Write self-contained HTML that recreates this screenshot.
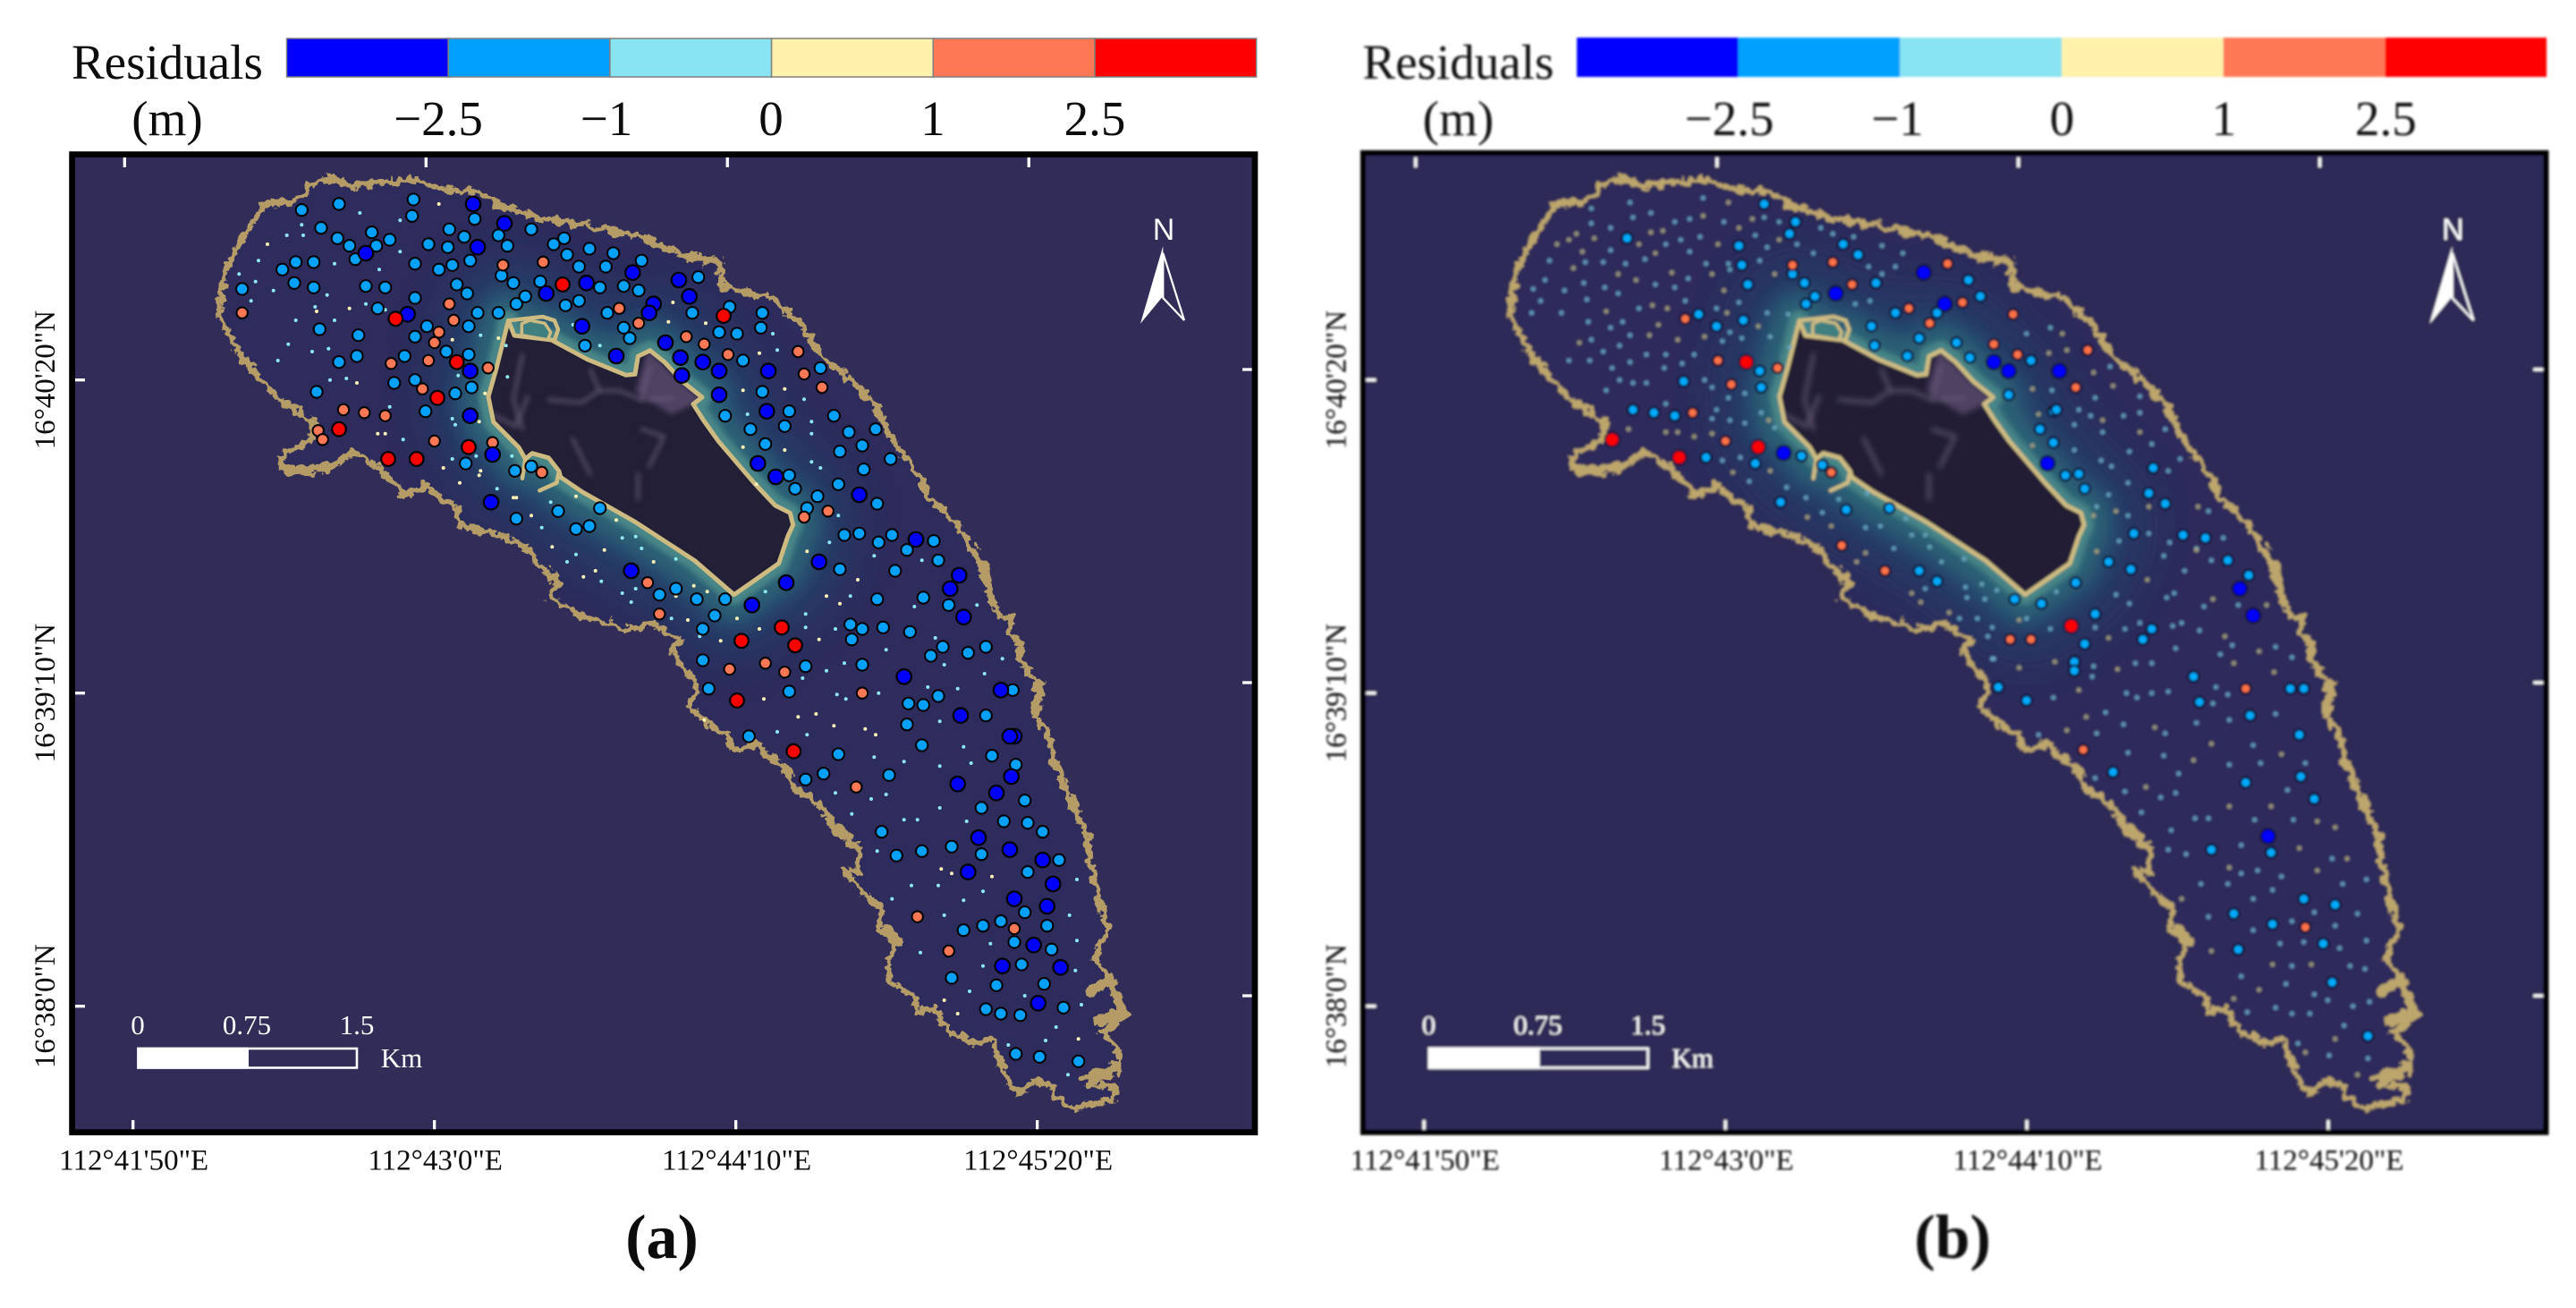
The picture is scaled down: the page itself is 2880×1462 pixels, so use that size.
<!DOCTYPE html>
<html lang="en">
<head>
<meta charset="utf-8">
<title>Residuals maps (a) and (b)</title>
<style>
html,body{margin:0;padding:0;background:#fff;}
svg{display:block;}
text{font-family:"Liberation Serif",serif;fill:#0c0c0c;}
</style>
</head>
<body>
<svg xmlns="http://www.w3.org/2000/svg" width="2880" height="1462" viewBox="0 0 2880 1462">
  <defs>
    <filter id="rough" filterUnits="userSpaceOnUse" x="-100" y="0" width="1700" height="1462">
      <feTurbulence type="fractalNoise" baseFrequency="0.1" numOctaves="3" seed="7"/>
      <feDisplacementMap in="SourceGraphic" scale="15" xChannelSelector="R" yChannelSelector="G"/>
    </filter>
    <filter id="blurWide" filterUnits="userSpaceOnUse" x="-100" y="0" width="1700" height="1462"><feGaussianBlur stdDeviation="28"/></filter>
    <filter id="blurMid" filterUnits="userSpaceOnUse" x="-100" y="0" width="1700" height="1462"><feGaussianBlur stdDeviation="12"/></filter>
    <filter id="blurNear" filterUnits="userSpaceOnUse" x="-100" y="0" width="1700" height="1462"><feGaussianBlur stdDeviation="3"/></filter>
    <filter id="soften" filterUnits="userSpaceOnUse" x="1400" y="0" width="1480" height="1462"><feGaussianBlur stdDeviation="1.2"/></filter>
    <clipPath id="mapClip"><rect x="80" y="173" width="1323" height="1092"/></clipPath>
    <clipPath id="reefClip"><path id="reefClipPath" d=""/></clipPath>
    <clipPath id="islandClip"><path id="islandClipPath" d=""/></clipPath>
  </defs>
  <rect x="0" y="0" width="2880" height="1462" fill="#ffffff"/>

  <g id="panel-a">
    <text x="80" y="88" font-size="55">Residuals</text>
    <text x="187" y="151" font-size="55" text-anchor="middle">(m)</text>
    <g stroke="#808080" stroke-width="1.5">
      <rect x="320.5" y="43" width="180.7" height="43" fill="#0000ff"/>
      <rect x="501.2" y="43" width="180.7" height="43" fill="#00a0ff"/>
      <rect x="681.9" y="43" width="180.7" height="43" fill="#88e4f0"/>
      <rect x="862.6" y="43" width="180.7" height="43" fill="#fef2ac"/>
      <rect x="1043.3" y="43" width="180.7" height="43" fill="#ff7855"/>
      <rect x="1224" y="43" width="180.7" height="43" fill="#ff0000"/>
    </g>
    <g font-size="55" text-anchor="middle">
      <text x="490" y="151">−2.5</text>
      <text x="678" y="151">−1</text>
      <text x="862" y="151">0</text>
      <text x="1043" y="151">1</text>
      <text x="1224" y="151">2.5</text>
    </g>
    <rect x="80" y="173" width="1323" height="1092" fill="#312c58"/>
    <g class="map" clip-path="url(#mapClip)"></g>
    <g class="axes"></g>
    <rect x="80.6" y="172.6" width="1322.4" height="1093" fill="none" stroke="#000" stroke-width="6.7"/>
    <g>
      <text x="1301" y="268" font-size="34" text-anchor="middle" style="font-family:'Liberation Sans',sans-serif;fill:#fff">N</text>
      <polygon points="1300.3,275 1275,361.7 1300.3,331" fill="#fff"/>
      <polygon points="1300.3,283 1324,358 1300.3,333" fill="none" stroke="#fff" stroke-width="2.2"/>
    </g>
    <g>
      <text x="154" y="1156" font-size="31" text-anchor="middle" style="fill:#fff">0</text>
      <text x="276" y="1156" font-size="31" text-anchor="middle" style="fill:#fff">0.75</text>
      <text x="399" y="1156" font-size="31" text-anchor="middle" style="fill:#fff">1.5</text>
      <text x="425.7" y="1193" font-size="31" style="fill:#fff">Km</text>
      <rect x="154.5" y="1172" width="244.5" height="21.5" fill="none" stroke="#fff" stroke-width="2.6"/>
      <rect x="153.3" y="1170.7" width="124.7" height="24" fill="#fff"/>
    </g>
    <text x="740" y="1406" font-size="70" font-weight="bold" text-anchor="middle">(a)</text>
  </g>

  <g filter="url(#soften)">
  <g id="panel-b" transform="translate(1443.4,0)">
    <text x="80" y="88" font-size="55">Residuals</text>
    <text x="187" y="151" font-size="55" text-anchor="middle">(m)</text>
    <g>
      <rect x="319.5" y="42" width="180.7" height="44" fill="#0000ff"/>
      <rect x="500.2" y="42" width="180.7" height="44" fill="#00a0ff"/>
      <rect x="680.9" y="42" width="180.7" height="44" fill="#88e4f0"/>
      <rect x="861.6" y="42" width="180.7" height="44" fill="#fef2ac"/>
      <rect x="1042.3" y="42" width="180.7" height="44" fill="#ff7855"/>
      <rect x="1223" y="42" width="180.7" height="44" fill="#ff0000"/>
    </g>
    <g font-size="55" text-anchor="middle">
      <text x="490" y="151">−2.5</text>
      <text x="678" y="151">−1</text>
      <text x="862" y="151">0</text>
      <text x="1043" y="151">1</text>
      <text x="1224" y="151">2.5</text>
    </g>
    <rect x="80" y="171" width="1323" height="1094" fill="#2f2b58"/>
    <g class="map" clip-path="url(#mapClip)"></g>
    <g class="axes"></g>
    <rect x="80.6" y="171" width="1322.4" height="1094.6" fill="none" stroke="#000" stroke-width="6.2"/>
    <g transform="translate(-2,0)">
      <text x="1301" y="268" font-size="34" text-anchor="middle" style="font-family:'Liberation Sans',sans-serif;fill:#fff">N</text>
      <polygon points="1300.3,275 1275,361.7 1300.3,331" fill="#fff"/>
      <polygon points="1300.3,283 1324,358 1300.3,333" fill="none" stroke="#fff" stroke-width="2.2"/>
    </g>
    <g>
      <text x="154" y="1156" font-size="31" text-anchor="middle" style="fill:#fff">0</text>
      <text x="276" y="1156" font-size="31" text-anchor="middle" style="fill:#fff">0.75</text>
      <text x="399" y="1156" font-size="31" text-anchor="middle" style="fill:#fff">1.5</text>
      <text x="425.7" y="1193" font-size="31" style="fill:#fff">Km</text>
      <rect x="154.5" y="1172" width="244.5" height="21.5" fill="none" stroke="#fff" stroke-width="2.6"/>
      <rect x="153.3" y="1170.7" width="124.7" height="24" fill="#fff"/>
    </g>
    <text x="739.6" y="1406" font-size="70" font-weight="bold" text-anchor="middle">(b)</text>
  </g>
  </g>
</svg>
<script>
// Map coordinates are decametres east / north of the map's south-west corner.
const coastOutline=[[98,562],[101,576],[112,599],[126,620],[151,624],[159,635],[173,638],[186,633],[203,635],[225,637],[247,631],[269,629],[286,620],[313,611],[335,608],[346,606],[379,599],[412,585],[432,582],[434,565],[467,558],[484,544],[492,532],[501,518],[517,506],[534,490],[547,465],[564,442],[572,425],[594,403],[608,381],[613,362],[620,343],[629,345],[626,332],[634,329],[633,315],[647,299],[644,276],[653,266],[658,243],[668,223],[673,210],[679,197],[682,173],[689,147],[692,134],[684,114],[694,101],[705,78],[689,65],[699,55],[700,40],[679,32],[699,27],[697,20],[670,15],[657,22],[654,30],[644,33],[633,25],[626,32],[618,53],[615,61],[604,58],[586,66],[576,81],[565,79],[564,89],[546,99],[546,114],[552,129],[539,134],[541,147],[528,160],[515,175],[525,173],[525,190],[509,203],[502,216],[480,231],[478,243],[467,249],[457,260],[443,254],[437,266],[422,274],[412,284],[417,299],[408,310],[400,322],[406,327],[387,340],[371,335],[358,340],[342,343],[329,352],[318,357],[324,368],[310,380],[302,392],[286,398],[258,406],[255,417],[236,431],[220,427],[206,442],[187,455],[170,444],[142,442],[137,451],[159,462],[159,476],[137,490],[123,505],[112,518],[104,532],[97,546]];
const coastThickSegments=[[[682,94],[695,101],[702,79],[686,73]],[[679,35],[700,43]],[[544,134],[552,127]],[[509,203],[522,192]],[[412,585],[432,582]],[[608,381],[613,362]],[[647,299],[644,280]],[[142,442],[170,444]],[[236,431],[220,427]]];
const islandOutline=[[290.6,542.8],[294.6,532.8],[319.6,529.8],[343.6,516.8],[369.6,506.2],[375.6,506.8],[377.6,518.8],[385.6,522.8],[395.6,514.8],[407.6,501.8],[420.6,491.4],[414.6,486.8],[421.6,475.8],[431.6,461.8],[455.6,433.8],[469.6,418.8],[479.6,413.8],[481.6,405.8],[478,398],[472,380],[455,368],[442,359],[415.6,381.8],[375.6,407.8],[340,428],[325.6,437.8],[324.6,441.8],[317.6,450.8],[306.6,453.8],[302,450],[297.6,457.8],[280.6,474.8],[277.2,491.8],[282.6,510.8]];
const harbourLoop=[[290.6,542.8],[313.6,545.4],[321.6,542.8],[324,536.8],[321.6,529.8]];
const harbourInner=[[299.6,540.8],[299.6,533],[317,530],[319,535],[315,541],[305,543]];
const southJetty=[[311.6,428.8],[323,434],[324.6,441.8]];
const westJetty=[[302,450],[300,437]];
const islandPatch=[[385,520],[405,500],[418,490],[400,482],[378,496]];
const islandTracks=[[[317.6,489.8],[339.6,487.8],[351.6,495.8],[365.6,495.8],[379.6,489.8],[401.6,490.8]],[[345.6,509.8],[351.6,495.8]],[[385.6,511.8],[379.6,489.8]],[[279.6,480],[295.6,471.8],[303.6,491.8]],[[333.6,463.8],[345.6,439.8]],[[377.6,439.8],[377.6,423]],[[300,520],[294,490],[300,470]],[[380,470],[395,465],[385,445]]];

const aDeep=[[267,621],[288,608],[270,592],[195,588],[374,575],[405,570],[343,568],[316,561],[412,559],[388,554],[385,548],[223,547],[340,539],[396,528],[406,518],[363,519],[421,515],[432,509],[265,509],[407,506],[465,509],[432,493],[464,482],[265,479],[280,453],[458,447],[470,438],[526,426],[279,421],[564,396],[593,372],[587,363],[596,344],[499,381],[477,367],[373,375],[454,352],[556,304],[621,295],[594,278],[630,264],[627,264],[592,232],[628,237],[618,226],[606,196],[627,188],[649,181],[599,173],[656,165],[630,155],[652,150],[643,124],[622,110],[661,109],[646,85]];
const aLight=[[152,617],[177,621],[227,624],[226,613],[268,611],[165,605],[251,604],[199,602],[176,598],[184,593],[202,593],[211,597],[237,594],[250,592],[261,599],[284,600],[290,593],[306,604],[321,594],[328,598],[345,591],[330,587],[361,588],[380,583],[356,579],[338,579],[188,584],[228,581],[244,577],[253,580],[265,583],[148,582],[160,582],[139,577],[147,568],[160,565],[112,564],[195,566],[208,565],[256,567],[263,561],[286,573],[294,568],[302,559],[312,569],[296,554],[329,553],[338,556],[352,565],[368,566],[378,563],[418,572],[228,558],[203,551],[270,548],[284,548],[357,548],[414,548],[439,552],[461,548],[164,537],[190,533],[228,532],[236,539],[264,539],[368,538],[372,531],[432,535],[444,534],[460,538],[342,526],[249,522],[264,520],[221,519],[189,519],[177,515],[448,516],[500,511],[214,501],[228,503],[266,498],[255,494],[162,495],[461,495],[235,482],[436,479],[479,482],[453,470],[476,472],[509,479],[519,468],[537,470],[463,460],[528,459],[513,455],[547,450],[262,447],[306,445],[295,442],[479,439],[483,430],[529,443],[512,433],[498,425],[538,420],[491,417],[352,417],[324,415],[296,410],[336,403],[345,405],[516,399],[526,400],[548,399],[539,394],[558,389],[576,395],[579,382],[513,376],[550,375],[403,363],[392,359],[417,356],[436,356],[429,345],[421,336],[538,356],[569,357],[586,352],[520,339],[528,336],[542,337],[560,334],[521,329],[582,324],[574,318],[599,320],[611,324],[421,315],[490,311],[528,312],[425,296],[479,294],[629,295],[579,291],[559,286],[569,285],[611,278],[558,272],[452,264],[568,258],[512,252],[615,251],[631,245],[502,239],[490,235],[546,238],[637,221],[608,216],[623,207],[639,206],[649,200],[541,200],[588,190],[568,187],[551,184],[608,185],[660,181],[639,173],[637,146],[609,137],[621,140],[596,134],[652,137],[630,126],[655,121],[635,111],[588,102],[618,97],[650,98],[663,82],[611,81],[621,78],[634,77],[631,51],[647,49],[673,46]];
const aOrange=[[287,580],[314,582],[251,554],[365,551],[254,543],[378,541],[112,548],[244,535],[241,528],[410,532],[422,527],[485,522],[438,520],[237,516],[212,514],[277,511],[489,507],[501,498],[233,497],[180,483],[194,481],[208,479],[163,469],[166,463],[241,462],[280,461],[313,441],[505,415],[489,411],[384,367],[392,346],[439,309],[463,313],[476,307],[528,293],[524,230],[565,143],[630,135],[586,120]];
const aRed=[[327,567],[435,546],[215,544],[256,515],[243,491],[177,470],[264,458],[210,450],[229,450],[474,337],[447,328],[483,325],[444,288],[482,254]];
const aDotsWarm=[[129,594],[162,549],[189,501],[184,551],[244,621],[203,467],[208,467],[247,444],[258,434],[294,424],[306,412],[341,371],[401,555],[398,542],[423,541],[459,521],[448,496],[476,497],[448,458],[476,456],[457,433],[491,388],[336,425],[296,424],[363,409],[355,389],[320,391],[388,381],[284,531],[253,530],[275,494],[271,475],[272,442],[271,439],[349,375],[403,358],[415,365],[424,361],[411,342],[433,328],[459,336],[444,343],[504,358],[513,353],[525,369],[499,329],[462,289],[497,279],[485,277],[509,271],[530,269],[537,265],[422,275],[581,175],[588,172],[615,170],[583,87],[592,78],[673,61]];
const aDotsCool=[[142,600],[123,583],[110,574],[118,556],[121,569],[133,563],[169,560],[153,600],[161,552],[148,543],[143,527],[174,543],[136,516],[159,522],[171,503],[182,504],[170,524],[195,554],[208,550],[218,589],[218,610],[191,615],[152,607],[174,581],[204,577],[289,526],[290,505],[211,485],[253,477],[220,463],[313,404],[330,381],[353,368],[468,534],[471,523],[489,490],[451,480],[494,475],[494,467],[494,448],[500,444],[512,412],[506,394],[319,421],[283,430],[367,397],[376,398],[380,390],[336,386],[403,383],[352,526],[272,533],[257,506],[255,473],[253,450],[269,452],[293,452],[334,540],[367,360],[376,363],[373,354],[400,343],[419,331],[490,346],[490,337],[463,361],[520,358],[510,336],[536,385],[563,351],[568,382],[605,352],[577,330],[544,322],[583,312],[622,316],[610,306],[572,297],[592,296],[516,313],[504,308],[488,303],[511,292],[517,289],[539,293],[580,274],[491,265],[471,267],[596,257],[536,250],[556,247],[580,244],[601,246],[510,226],[534,222],[544,225],[521,212],[580,216],[556,208],[565,208],[598,207],[651,202],[538,187],[561,164],[579,164],[609,160],[548,155],[596,154],[583,144],[667,144],[614,125],[672,127],[567,119],[609,110],[671,107],[600,93],[637,90],[675,84],[658,69],[651,60],[626,57],[666,37],[672,168]];

const bDeep=[[374,575],[315,561],[388,554],[421,515],[431,509],[280,454],[457,447],[465,509],[586,363],[595,345],[605,197]];
const bLight=[[267,621],[288,609],[284,601],[175,598],[250,593],[252,580],[320,594],[330,587],[256,567],[286,574],[294,568],[342,568],[301,559],[295,554],[404,570],[412,559],[383,548],[355,548],[223,547],[235,539],[253,543],[339,539],[341,526],[371,531],[396,528],[363,519],[405,518],[446,516],[264,509],[213,502],[265,498],[431,493],[452,470],[461,482],[461,461],[179,483],[193,481],[207,479],[292,452],[228,451],[261,447],[306,446],[278,421],[322,416],[351,417],[371,375],[383,368],[435,356],[453,353],[463,483],[469,439],[478,440],[482,430],[528,444],[525,427],[536,420],[515,400],[548,399],[563,397],[476,367],[498,381],[513,376],[578,382],[592,372],[489,346],[482,326],[527,336],[521,329],[475,314],[475,308],[555,304],[559,287],[620,296],[629,296],[593,278],[626,265],[424,297],[443,288],[501,240],[590,233],[627,237],[636,222],[567,188],[607,186],[629,155],[650,151],[582,145],[608,138],[642,125],[585,121],[648,99],[672,63]];
const bOrange=[[286,580],[313,582],[326,567],[390,581],[400,555],[364,551],[434,547],[378,541],[421,527],[437,520],[214,544],[236,516],[276,511],[245,500],[219,481],[241,462],[312,441],[319,392],[348,375],[432,329],[446,329],[484,523],[476,498],[590,296],[481,255],[630,136]];
const bRed=[[255,515],[165,463],[263,458],[210,451],[473,338]];
const bDotsWarm=[[243,622],[226,613],[128,594],[153,598],[191,602],[199,603],[236,594],[250,605],[259,611],[277,597],[183,594],[141,601],[145,589],[194,588],[136,597],[139,578],[169,574],[205,575],[274,574],[181,570],[232,574],[240,563],[192,553],[202,551],[242,548],[161,549],[196,540],[263,539],[190,533],[227,532],[143,528],[209,530],[270,476],[176,470],[201,468],[209,468],[220,465],[232,467],[246,441],[271,442],[296,411],[312,405],[329,381],[335,387],[372,354],[391,347],[366,360],[467,534],[458,521],[470,523],[488,508],[501,499],[447,497],[451,480],[494,476],[519,468],[447,459],[503,415],[488,412],[525,418],[558,418],[557,389],[490,388],[524,369],[568,356],[604,352],[498,330],[438,342],[576,331],[599,321],[582,313],[504,309],[462,314],[438,310],[478,295],[609,307],[483,277],[529,270],[567,259],[470,268],[614,252],[555,248],[523,230],[579,217],[607,217],[638,207],[650,203],[626,189],[658,182],[579,176],[638,174],[547,155],[567,120],[608,111],[634,111],[599,94],[582,88],[650,61],[630,52],[665,37]];
const bDotsCool=[[226,625],[177,622],[151,618],[179,612],[191,615],[207,609],[217,611],[240,609],[267,612],[277,609],[151,608],[164,605],[261,600],[224,599],[211,597],[201,594],[289,594],[269,592],[164,590],[217,589],[300,588],[305,605],[313,601],[327,599],[346,593],[360,588],[123,583],[147,582],[159,582],[174,581],[187,584],[228,581],[243,581],[264,583],[244,577],[216,571],[346,574],[337,579],[355,579],[328,554],[338,556],[120,570],[146,568],[194,567],[207,565],[112,564],[133,563],[160,565],[169,561],[148,557],[117,556],[214,556],[183,551],[235,551],[250,555],[111,548],[131,548],[269,548],[283,547],[149,542],[172,542],[164,538],[177,533],[244,535],[252,531],[271,532],[151,530],[170,526],[239,529],[284,525],[159,522],[188,520],[201,520],[220,520],[136,516],[150,516],[177,515],[212,514],[200,511],[165,511],[170,503],[179,501],[188,501],[161,496],[227,503],[232,498],[254,494],[243,491],[235,483],[201,487],[265,481],[232,477],[244,476],[254,474],[274,471],[257,435],[239,449],[251,451],[282,431],[295,424],[306,414],[335,404],[345,405],[354,390],[375,363],[402,364],[403,357],[415,356],[413,366],[423,362],[398,343],[410,343],[420,337],[420,316],[443,343],[366,399],[375,399],[378,391],[386,381],[401,383],[336,427],[317,423],[362,410],[443,534],[459,538],[499,512],[460,496],[489,491],[519,492],[478,483],[486,479],[508,479],[519,481],[475,473],[494,468],[536,470],[475,456],[512,455],[527,460],[546,450],[493,449],[500,445],[538,442],[511,434],[498,426],[490,418],[511,412],[565,415],[525,400],[505,395],[539,394],[575,397],[535,385],[549,375],[567,382],[557,390],[463,361],[503,359],[512,353],[537,357],[542,360],[562,351],[585,352],[509,336],[519,340],[541,338],[547,340],[559,335],[459,336],[489,337],[581,325],[610,324],[543,323],[573,319],[621,317],[527,313],[516,313],[488,311],[487,304],[421,316],[570,297],[578,292],[517,290],[510,293],[527,293],[538,294],[461,290],[568,286],[610,279],[579,275],[557,273],[508,272],[496,280],[536,266],[490,266],[451,265],[595,258],[511,253],[535,251],[579,245],[600,246],[630,246],[489,236],[545,239],[509,227],[533,223],[543,226],[618,228],[520,213],[556,209],[565,209],[596,208],[622,208],[540,201],[587,191],[538,188],[550,185],[648,182],[587,172],[598,174],[614,170],[671,168],[560,165],[578,165],[595,155],[608,161],[655,165],[565,143],[595,134],[621,140],[636,146],[650,137],[665,145],[613,125],[629,126],[653,122],[671,127],[621,110],[660,110],[670,108],[587,103],[617,98],[636,91],[645,87],[662,83],[673,86],[591,79],[610,82],[621,78],[633,78],[656,70],[625,58],[646,50],[672,48],[417,331]];

const lonTickSeconds=[0,70,140,210];
const lonTickLabels=["112°41'50\"E","112°43'0\"E","112°44'10\"E","112°45'20\"E"];
const latTickSeconds=[140,70,0];
const latTickLabels=["16°40'20\"N","16°39'10\"N","16°38'0\"N"];

const SVG_NS='http://www.w3.org/2000/svg';
const metresPerPixel=0.6;
function mapX(e){return 84+e/metresPerPixel;}
function mapY(n){return 1263-n/metresPerPixel;}
function lonBottomX(sec){return 148.7+sec*4.814;}
function lonTopX(sec){return 139.3+sec*4.814;}
function latLeftY(sec){return 1124.7-sec*5;}
function latRightY(sec){return 1113-sec*5;}
function pathOf(list,closed){
  let d='';
  list.forEach(function(p,i){d+=(i?'L':'M')+mapX(p[0]).toFixed(1)+' '+mapY(p[1]).toFixed(1);});
  return d+(closed?'Z':'');
}
function addPath(parent,d,fill,stroke,width,filter,opacity){
  const el=document.createElementNS(SVG_NS,'path');
  el.setAttribute('d',d);
  el.setAttribute('fill',fill);
  el.setAttribute('stroke',stroke);
  el.setAttribute('stroke-width',width);
  el.setAttribute('stroke-linejoin','round');
  el.setAttribute('stroke-linecap','round');
  if(filter)el.setAttribute('filter',filter);
  if(opacity)el.setAttribute('opacity',opacity);
  parent.appendChild(el);
  return el;
}
function plotPoints(parent,pts,fill,r,stroke,sw,opacity){
  pts.forEach(function(p){
    const c=document.createElementNS(SVG_NS,'circle');
    c.setAttribute('cx',mapX(p[0]).toFixed(1));
    c.setAttribute('cy',mapY(p[1]).toFixed(1));
    c.setAttribute('r',r);
    c.setAttribute('fill',fill);
    if(stroke){c.setAttribute('stroke',stroke);c.setAttribute('stroke-width',sw);}
    if(opacity)c.setAttribute('opacity',opacity);
    
    
    parent.appendChild(c);
  });
}
function drawTerrain(map,coastColor){
  const coastPath=pathOf(coastOutline,true);
  const islandPath=pathOf(islandOutline,true);
  const reef=addPath(map,coastPath,'#2d2c5c','none',0);
  
  
  const glow=document.createElementNS(SVG_NS,'g');
  glow.setAttribute('clip-path','url(#reefClip)');
  
  
  map.appendChild(glow);
  addPath(glow,islandPath,'#20466f','#20466f',120,'url(#blurWide)','0.85');
  addPath(glow,islandPath,'#2f6778','#2f6778',62,'url(#blurMid)','0.9');
  addPath(glow,islandPath,'#4f8f8c','#4f8f8c',22,'url(#blurNear)','0.8');
  const coast=addPath(map,coastPath,'none',coastColor,6.5,'url(#rough)');
  
  
  coastThickSegments.forEach(function(s){
    const blob=addPath(map,pathOf(s,false),'none',coastColor,11,'url(#rough)');
    
    
  });
  const island=addPath(map,islandPath,'#231f36','none',0);
  
  
  const surface=document.createElementNS(SVG_NS,'g');
  surface.setAttribute('clip-path','url(#islandClip)');
  
  
  map.appendChild(surface);
  const patch=addPath(surface,pathOf(islandPatch,true),'#4f4264','#4f4264',6,'url(#blurNear)');
  
  
  islandTracks.forEach(function(t){
    const track=addPath(surface,pathOf(t,false),'none','#6b5f7c',3.5,'url(#blurNear)','0.8');
    
    
  });
  const shore=addPath(map,islandPath,'none','#cdbb82',5);
  
  
  const harbourFill=addPath(map,pathOf(harbourInner,true),'#3f7f80','#cdbb82',3.5);
  
  
  [harbourLoop,southJetty,westJetty].forEach(function(j){
    const line=addPath(map,pathOf(j,false),'none','#cdbb82',4.5);
    
    
  });
}
function drawAxes(axes){
  lonTickSeconds.forEach(function(sec,i){
    const top=document.createElementNS(SVG_NS,'line');
    top.setAttribute('x1',lonTopX(sec));top.setAttribute('x2',lonTopX(sec));
    top.setAttribute('y1',176);top.setAttribute('y2',187);
    top.setAttribute('stroke','#fff');top.setAttribute('stroke-width',3.3);
    
    
    axes.appendChild(top);
    const bottom=document.createElementNS(SVG_NS,'line');
    bottom.setAttribute('x1',lonBottomX(sec));bottom.setAttribute('x2',lonBottomX(sec));
    bottom.setAttribute('y1',1252);bottom.setAttribute('y2',1263);
    bottom.setAttribute('stroke','#fff');bottom.setAttribute('stroke-width',3.3);
    
    
    axes.appendChild(bottom);
    const label=document.createElementNS(SVG_NS,'text');
    label.setAttribute('x',lonBottomX(sec)+1);label.setAttribute('y',1307.7);
    label.setAttribute('font-size',33);label.setAttribute('text-anchor','middle');
    
    
    label.textContent=lonTickLabels[i];
    axes.appendChild(label);
  });
  latTickSeconds.forEach(function(sec,i){
    const left=document.createElementNS(SVG_NS,'line');
    left.setAttribute('x1',84);left.setAttribute('x2',95);
    left.setAttribute('y1',latLeftY(sec));left.setAttribute('y2',latLeftY(sec));
    left.setAttribute('stroke','#fff');left.setAttribute('stroke-width',3.3);
    
    
    axes.appendChild(left);
    const right=document.createElementNS(SVG_NS,'line');
    right.setAttribute('x1',1389);right.setAttribute('x2',1400);
    right.setAttribute('y1',latRightY(sec));right.setAttribute('y2',latRightY(sec));
    right.setAttribute('stroke','#fff');right.setAttribute('stroke-width',3.3);
    
    
    axes.appendChild(right);
    const label=document.createElementNS(SVG_NS,'text');
    label.setAttribute('transform','translate(61,'+latLeftY(sec)+') rotate(-90)');
    label.setAttribute('font-size',33);label.setAttribute('text-anchor','middle');
    
    
    label.textContent=latTickLabels[i];
    axes.appendChild(label);
  });
}
document.getElementById('reefClipPath').setAttribute('d',pathOf(coastOutline,true));
document.getElementById('islandClipPath').setAttribute('d',pathOf(islandOutline,true));

const mapA=document.querySelector('#panel-a .map');
drawTerrain(mapA,'#b59c66');
plotPoints(mapA,aDotsCool,'#8de9f2',2);
plotPoints(mapA,aDotsWarm,'#fff3b5',2);
plotPoints(mapA,aLight,'#00a0ff',6.6,'#000',2);
plotPoints(mapA,aOrange,'#ff7855',6.2,'#000',2);
plotPoints(mapA,aDeep,'#0000ff',8.2,'#000',2.2);
plotPoints(mapA,aRed,'#ff0000',7.8,'#000',2.2);
drawAxes(document.querySelector('#panel-a .axes'));

const mapB=document.querySelector('#panel-b .map');
drawTerrain(mapB,'#bda66c');
plotPoints(mapB,bDotsCool,'#66a6c0',2.9,null,0,'0.8');
plotPoints(mapB,bDotsWarm,'#a6a07a',2.9,null,0,'0.8');
plotPoints(mapB,bLight,'#00aaff',5.8,'#0a1030',2.6);
plotPoints(mapB,bOrange,'#ff7247',5.6,'#0a1030',2.6);
plotPoints(mapB,bDeep,'#0000ff',8,'#0a1030',2.4);
plotPoints(mapB,bRed,'#ff0000',7.8,'#0a1030',2.4);
drawAxes(document.querySelector('#panel-b .axes'));
</script>
</body>
</html>
